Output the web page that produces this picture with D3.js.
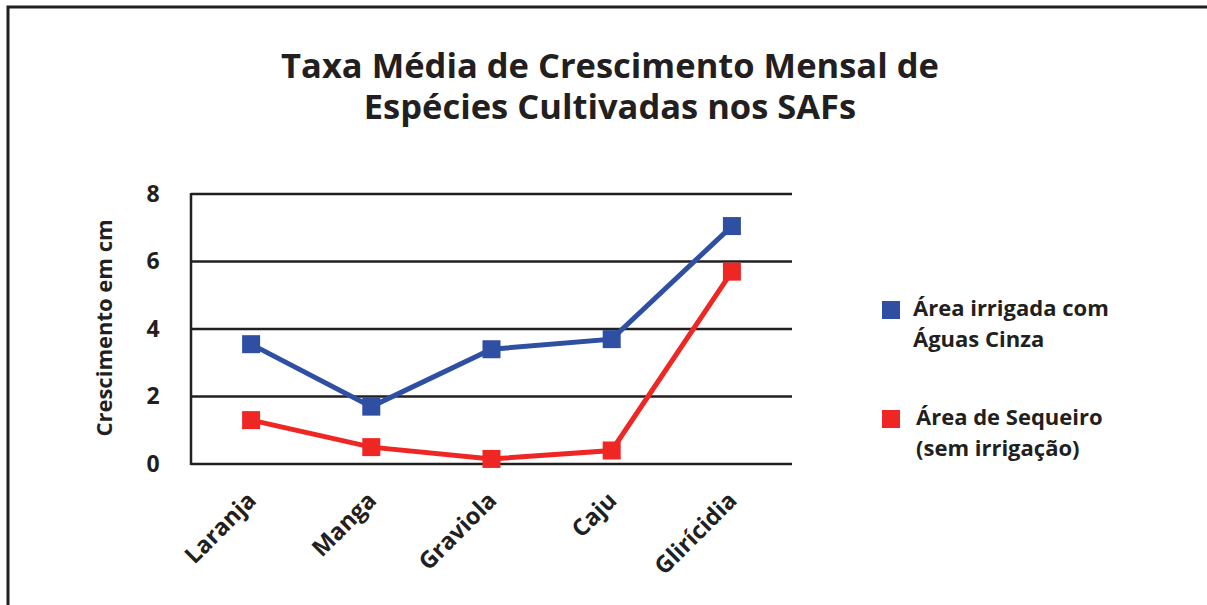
<!DOCTYPE html>
<html>
<head>
<meta charset="utf-8">
<script src="https://cdn.jsdelivr.net/npm/d3@7"></script>
<style>
  body { margin: 0; background: #fff; }
  text { font-family: "Open Sans", "Noto Sans", sans-serif; font-weight: bold; fill: #231f20; }
</style>
</head>
<body>
<div id="viz"></div>
<script>
var categories = ["Laranja", "Manga", "Graviola", "Caju", "Glirícidia"]
var irrigada = [3.55, 1.7, 3.4, 3.7, 7.05]
var sequeiro = [1.3, 0.5, 0.15, 0.4, 5.7]
var yTicks = [0, 2, 4, 6, 8]
var titleLines = ["Taxa Média de Crescimento Mensal de", "Espécies Cultivadas nos SAFs"]
var seriesNames = [["Área irrigada com", "Águas Cinza"], ["Área de Sequeiro", "(sem irrigação)"]]

var blue = "#2f4fa3"
var red = "#ee2724"
var ink = "#231f20"

var svg = d3.select("#viz")
  .append("svg")
  .attr("width", 1207)
  .attr("height", 605);

// outer frame, cut off at right and bottom
svg.append("path")
  .attr("d", "M8 605 L8 7 L1207 7")
  .attr("fill", "none")
  .attr("stroke", ink)
  .attr("stroke-width", 3);

var title = svg.append("text")
  .attr("text-anchor", "middle")
  .attr("font-size", 34.5);
titleLines.forEach(function(t, i) {
  title.append("tspan")
    .attr("x", 610).attr("y", 78 + i * 41)
    .text(t);
});

var plotLeft = 191, plotRight = 792, plotTop = 194, plotBottom = 464;

var x = d3.scalePoint().domain(categories).range([plotLeft, plotRight]).padding(0.5);
var y = d3.scaleLinear().domain([0, 8]).range([plotBottom, plotTop]);

// gridlines
svg.append("g")
  .selectAll("line")
  .data(yTicks)
  .enter().append("line")
  .attr("x1", plotLeft).attr("x2", plotRight)
  .attr("y1", function(d) { return y(d); })
  .attr("y2", function(d) { return y(d); })
  .attr("stroke", ink)
  .attr("stroke-width", 2.5);

svg.append("line")
  .attr("x1", plotLeft).attr("x2", plotLeft)
  .attr("y1", plotTop - 1).attr("y2", plotBottom + 1)
  .attr("stroke", ink)
  .attr("stroke-width", 2.5);

var yAxis = svg.append("g")
  .attr("transform", "translate(" + plotLeft + ",0)")
  .call(d3.axisLeft(y).tickValues(yTicks).tickSize(0).tickPadding(38));
yAxis.select(".domain").remove();
yAxis.selectAll("text")
  .attr("font-size", 23)
  .attr("text-anchor", "middle")
  .attr("fill", ink)
  .style("font-family", "'Open Sans', sans-serif")
  .style("font-weight", "bold");

var xAxis = svg.append("g")
  .attr("transform", "translate(0," + plotBottom + ")")
  .call(d3.axisBottom(x).tickSize(0).tickPadding(0));
xAxis.select(".domain").remove();
xAxis.selectAll("text")
  .attr("font-size", 23.5)
  .attr("fill", ink)
  .style("font-family", "'Open Sans', sans-serif")
  .style("font-weight", "bold")
  .attr("text-anchor", "end")
  .attr("dy", 0)
  .attr("transform", "translate(6,38) rotate(-45)");

svg.append("text")
  .attr("transform", "translate(112,328) rotate(-90)")
  .attr("text-anchor", "middle")
  .attr("font-size", 22)
  .text("Crescimento em cm");

var line = d3.line()
  .x(function(d, i) { return x(categories[i]); })
  .y(function(d) { return y(d); });

[[irrigada, blue], [sequeiro, red]].forEach(function(s) {
  svg.append("path")
    .attr("d", line(s[0]))
    .attr("fill", "none")
    .attr("stroke", s[1])
    .attr("stroke-width", 5);
  svg.append("g")
    .selectAll("rect")
    .data(s[0])
    .enter().append("rect")
    .attr("x", function(d, i) { return x(categories[i]) - 9; })
    .attr("y", function(d) { return y(d) - 9; })
    .attr("width", 18).attr("height", 18)
    .attr("fill", s[1]);
});

// legend
var legend = svg.append("g");
[[blue, 301], [red, 410]].forEach(function(l, i) {
  legend.append("rect")
    .attr("x", 882).attr("y", l[1])
    .attr("width", 18).attr("height", 18)
    .attr("fill", l[0]);
  seriesNames[i].forEach(function(t, j) {
    legend.append("text")
      .attr("x", 913 + i * 3).attr("y", l[1] + 15 + j * 31)
      .attr("font-size", 22)
      .text(t);
  });
});
</script>
</body>
</html>
